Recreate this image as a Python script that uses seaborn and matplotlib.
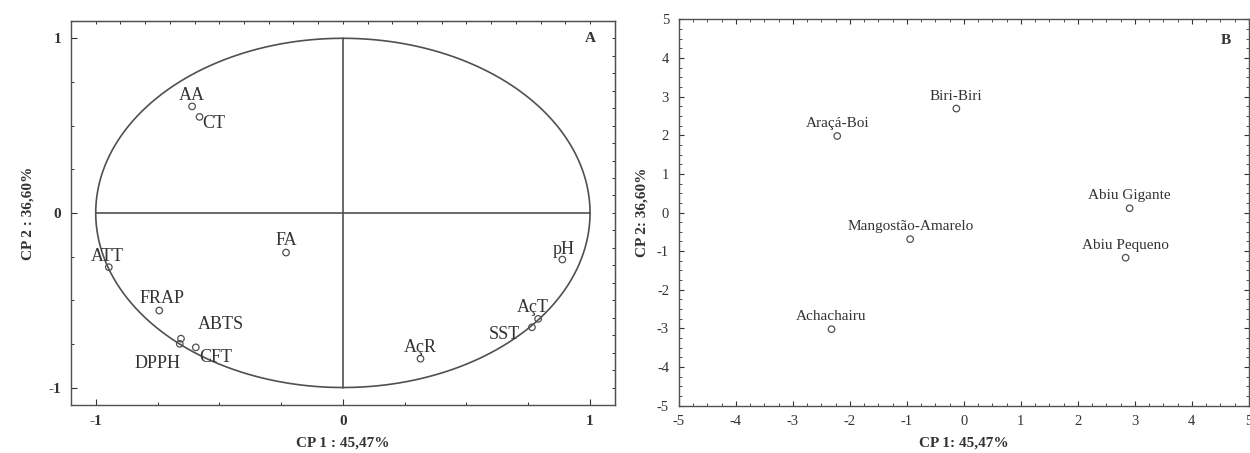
import numpy as np
import pandas as pd
import matplotlib.pyplot as plt
from matplotlib.ticker import MultipleLocator
import seaborn as sns

# Panel A: variable loadings on CP1 / CP2
var_names = ['AA', 'CT', 'FA', 'ATT', 'FRAP', 'ABTS', 'DPPH', 'CFT', 'AçR', 'SST', 'AçT', 'pH']
cp1_load = [-0.61, -0.58, -0.23, -0.947, -0.743, -0.655, -0.66, -0.595, 0.314, 0.765, 0.79, 0.888]
cp2_load = [0.61, 0.55, -0.227, -0.311, -0.559, -0.72, -0.75, -0.77, -0.835, -0.655, -0.607, -0.267]

# Panel B: fruit scores on CP1 / CP2
fruit_names = ['Biri-Biri', 'Araçá-Boi', 'Abiu Gigante', 'Mangostão-Amarelo', 'Abiu Pequeno', 'Achachairu']
cp1_score = [-0.13, -2.22, 2.91, -0.94, 2.84, -2.32]
cp2_score = [2.69, 1.98, 0.11, -0.69, -1.17, -3.02]

xlabel_a, ylabel_a = 'CP 1 : 45,47%', 'CP 2 : 36,60%'
xlabel_b, ylabel_b = 'CP 1: 45,47%', 'CP 2: 36,60%'

# label offsets (points) for panel A, text sits around each marker
offsets_a = {'AA': (0, 8), 'CT': (10, -5), 'FA': (0, 9), 'ATT': (-1, 8), 'FRAP': (2, 9),
             'ABTS': (29, 10), 'DPPH': (-16, -14), 'CFT': (14, -7), 'AçR': (0, 8),
             'SST': (-20, -5), 'AçT': (-4, 8), 'pH': (1, 7)}

sns.set_style('ticks')
plt.rcParams['font.family'] = ['Liberation Serif', 'DejaVu Serif']
plt.rcParams['axes.unicode_minus'] = False
plt.rcParams['xtick.direction'] = 'in'
plt.rcParams['ytick.direction'] = 'in'

ink = '#333333'
line_c = '#505050'

fig = plt.figure(figsize=(12.5, 4.53), dpi=100)
ax1 = fig.add_axes([0.0568, 0.106, 0.435, 0.848])
ax2 = fig.add_axes([0.543, 0.1044, 0.456, 0.853])

# ---------- panel A ----------
t = np.linspace(0, 2 * np.pi, 400)
ax1.plot(np.cos(t), np.sin(t), color=line_c, lw=1.2, zorder=1)
ax1.plot([-1, 1], [0, 0], color=line_c, lw=1.2, zorder=1)
ax1.plot([0, 0], [-1, 1], color=line_c, lw=1.2, zorder=1)

df_a = pd.DataFrame({'cp1': cp1_load, 'cp2': cp2_load, 'name': var_names})
sns.scatterplot(data=df_a, x='cp1', y='cp2', ax=ax1, marker='o', s=22,
                facecolors='none', edgecolor=line_c, linewidth=0.9, zorder=3)
for _, r in df_a.iterrows():
    dx, dy = offsets_a[r['name']]
    ax1.annotate(r['name'], (r['cp1'], r['cp2']), xytext=(dx, dy), textcoords='offset points',
                 ha='center', va='center', fontsize=13, color=ink)

ax1.set_xlim(-1.1, 1.1)
ax1.set_ylim(-1.1, 1.1)
ax1.set_xticks([-1, 0, 1])
ax1.set_yticks([-1, 0, 1])
ax1.xaxis.set_minor_locator(MultipleLocator(0.25))
ax1.yaxis.set_minor_locator(MultipleLocator(0.25))
ax1.tick_params(which='major', length=4, width=0.8, labelsize=11, colors=ink, pad=7)
ax1.tick_params(which='minor', length=2.5, width=0.7, colors=ink)
for lab in ax1.get_xticklabels() + ax1.get_yticklabels():
    lab.set_fontweight('bold')
ax1.set_xlabel(xlabel_a, fontsize=11, fontweight='bold', color=ink, labelpad=6)
ax1.set_ylabel(ylabel_a, fontsize=11, fontweight='bold', color=ink, labelpad=10)
ax1.text(0.955, 0.955, 'A', transform=ax1.transAxes, ha='center', va='center',
         fontsize=11, fontweight='bold', color=ink)
top1 = ax1.secondary_xaxis('top')
top1.set_xticks(np.arange(-1, 1.01, 0.1))
top1.tick_params(direction='in', length=2.5, width=0.7, labeltop=False, colors=ink)
right1 = ax1.secondary_yaxis('right')
right1.set_yticks(np.arange(-1, 1.01, 0.1))
right1.tick_params(direction='in', length=2.5, width=0.7, labelright=False, colors=ink)

# ---------- panel B ----------
df_b = pd.DataFrame({'cp1': cp1_score, 'cp2': cp2_score, 'name': fruit_names})
sns.scatterplot(data=df_b, x='cp1', y='cp2', ax=ax2, marker='o', s=22,
                facecolors='none', edgecolor=line_c, linewidth=0.9, zorder=3)
for _, r in df_b.iterrows():
    ax2.annotate(r['name'], (r['cp1'], r['cp2']), xytext=(0, 9), textcoords='offset points',
                 ha='center', va='center', fontsize=11, color=ink)

ax2.set_xlim(-5, 5)
ax2.set_ylim(-5, 5)
ax2.set_xticks(range(-5, 6))
ax2.set_yticks(range(-5, 6))
ax2.xaxis.set_minor_locator(MultipleLocator(0.25))
ax2.yaxis.set_minor_locator(MultipleLocator(0.25))
ax2.tick_params(which='major', length=3.5, width=0.8, labelsize=10.5, colors=ink, pad=7,
                top=True, right=True)
ax2.tick_params(which='minor', length=2, width=0.6, colors=ink, top=True, right=True)
ax2.set_xlabel(xlabel_b, fontsize=11, fontweight='bold', color=ink, labelpad=6)
ax2.set_ylabel(ylabel_b, fontsize=11, fontweight='bold', color=ink, labelpad=6)
ax2.text(4.6, 4.46, 'B', ha='center', va='center', fontsize=11, fontweight='bold', color=ink)

for ax in (ax1, ax2):
    for sp in ax.spines.values():
        sp.set_color(line_c)
        sp.set_linewidth(1.0)

fig.savefig('out.png', dpi=100)
